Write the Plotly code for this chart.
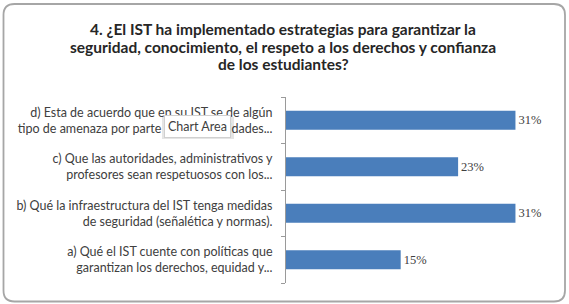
import plotly.graph_objects as go

# ---- data ----
categories = [
    "a) Qué el IST cuente con políticas que<br>garantizan los derechos, equidad y...",
    "b) Qué la infraestructura del IST tenga medidas<br>de seguridad (señalética y normas).",
    "c) Que las autoridades, administrativos y<br>profesores sean respetuosos con los...",
    "d) Esta de acuerdo que en su IST se de algún<br>tipo de amenaza por parte de las autoridades...",
]
values = [0.1538, 0.3077, 0.2308, 0.3077]
value_labels = ["15%", "31%", "23%", "31%"]
title_lines = [
    "4. ¿El IST ha implementado estrategias para garantizar la",
    "seguridad, conocimiento, el respeto a los derechos y confianza",
    "de los estudiantes?",
]

W, H = 569, 304
ML, MR, MT, MB = 286, 22, 97, 21
PW, PH = W - ML - MR, H - MT - MB


def px(x):
    return (x - ML) / PW


def py(y):
    return (H - MB - y) / PH


fig = go.Figure(go.Bar(
    x=values, y=categories, orientation="h",
    marker=dict(color="#4a7ebb", line=dict(width=0)),
    text=value_labels, textposition="outside", cliponaxis=False,
    textfont=dict(family="Liberation Serif", size=12.5, color="#404040"),
    hoverinfo="skip",
))

# rounded border
x0, x1, y0, y1, r = 3.5, 565, 4, 301.5, 11
path = (f"M {px(x0+r)},{py(y0)} L {px(x1-r)},{py(y0)} "
        f"Q {px(x1)},{py(y0)} {px(x1)},{py(y0+r)} "
        f"L {px(x1)},{py(y1-r)} Q {px(x1)},{py(y1)} {px(x1-r)},{py(y1)} "
        f"L {px(x0+r)},{py(y1)} Q {px(x0)},{py(y1)} {px(x0)},{py(y1-r)} "
        f"L {px(x0)},{py(y0+r)} Q {px(x0)},{py(y0)} {px(x0+r)},{py(y0)} Z")

shapes = [
    dict(type="path", xref="paper", yref="paper", path=path,
         line=dict(color="#a6a6a6", width=1.8), layer="below"),
    # tooltip shadow
    dict(type="rect", xref="paper", yref="paper",
         x0=px(162), x1=px(234), y0=py(117), y1=py(139),
         fillcolor="rgba(0,0,0,0.10)", line=dict(width=0), layer="above"),
]

annotations = []
title_y = [29, 46.5, 64]
for line, ty in zip(title_lines, title_y):
    annotations.append(dict(
        text=f"<b>{line}</b>", xref="paper", yref="paper",
        x=px(283), y=py(ty), xanchor="center", yanchor="middle",
        showarrow=False,
        font=dict(family="Lato", size=15.5, color="#262626")))

annotations.append(dict(
    text="Chart Area", xref="paper", yref="paper",
    x=px(197), y=py(126.5), xanchor="center", yanchor="middle",
    showarrow=False, bgcolor="white", bordercolor="#d0d0d0",
    borderwidth=1, borderpad=3,
    font=dict(family="Lato", size=12.5, color="#404040")))

fig.update_layout(
    width=W, height=H,
    margin=dict(l=ML, r=MR, t=MT, b=MB, pad=0),
    paper_bgcolor="white", plot_bgcolor="white",
    showlegend=False,
    bargap=0.59,
    xaxis=dict(range=[0, 0.35], showticklabels=False, showgrid=False,
               zeroline=False, showline=False, ticks=""),
    yaxis=dict(showline=True, linecolor="#9a9a9a", linewidth=1,
               ticks="outside", ticklen=4, tickcolor="#9a9a9a",
               tickson="boundaries", showgrid=False,
               ticklabelstandoff=10,
               tickfont=dict(family="Lato", size=12.5, color="#404040")),
    shapes=shapes,
    annotations=annotations,
)

fig.write_html("out.html")
